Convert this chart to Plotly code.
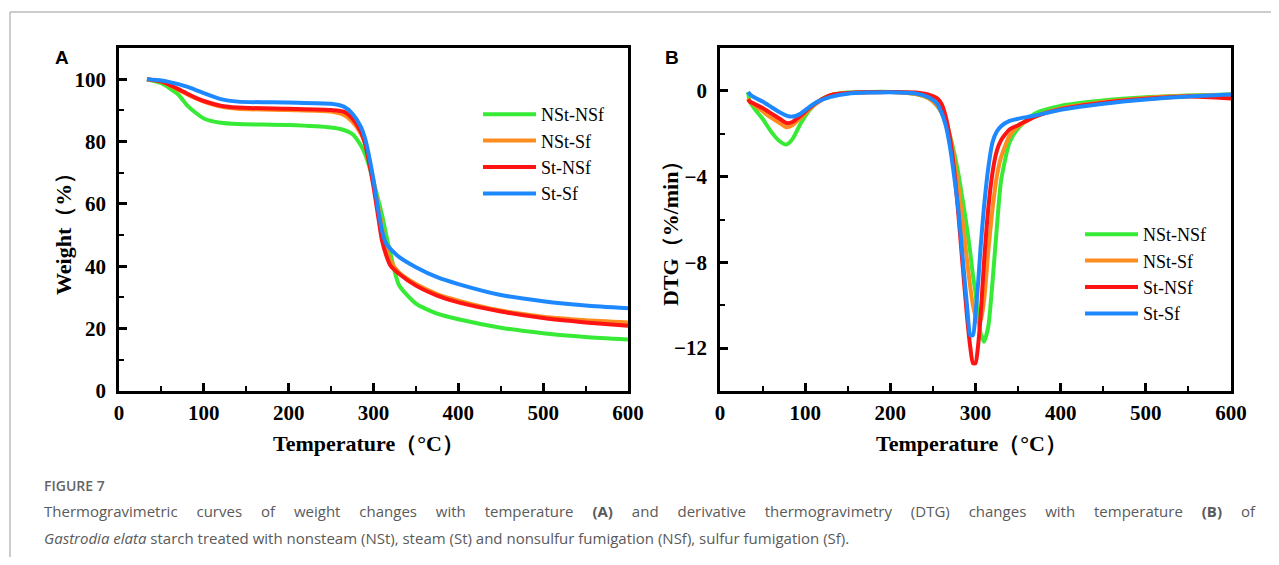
import plotly.graph_objects as go

# --- данные ---
series_names = ["NSt-NSf", "NSt-Sf", "St-NSf", "St-Sf"]
series_colors = ["#36ea36", "#ff8c1e", "#ff1414", "#1e88ff"]

# (A) TG: температура, °C и масса, %
tg_temp = [33, 50, 70, 80, 90, 100, 120, 140, 200, 250, 265, 275, 285, 290, 295,
           300, 305, 310, 315, 320, 330, 350, 375, 400, 450, 500, 550, 600]
tg_nst_nsf = [100, 98.7, 95, 91.7, 89.3, 87.4, 86, 85.6, 85.3, 84.5, 83.7, 82.4, 78.8, 76, 72,
              67, 62, 56.5, 50, 44, 34, 28, 24.8, 23, 20.3, 18.5, 17.3, 16.5]
tg_nst_sf = [100, 99.2, 96.6, 95.2, 93.9, 92.8, 91.2, 90.5, 90.1, 89.6, 88.5, 86.4, 82.6, 79.4, 74,
             67.6, 60, 52.6, 46, 41.8, 38, 34.3, 31.1, 29, 25.8, 23.8, 22.7, 22]
tg_st_nsf = [100, 99.3, 96.8, 95.4, 94.1, 93, 91.5, 90.9, 90.5, 90.1, 89.6, 87.4, 83.2, 79.4, 73,
             65.5, 56.9, 48.3, 43.5, 40.2, 37.6, 33.8, 30.6, 28.4, 25.5, 23.4, 22, 20.9]
tg_st_sf = [100, 99.6, 98.4, 97.6, 96.6, 95.5, 93.6, 92.8, 92.5, 92.1, 91.2, 89, 84.8, 81, 75,
            67.6, 59, 51.5, 47.2, 45.6, 43, 39.7, 36.5, 34.3, 30.8, 28.8, 27.4, 26.5]

# (B) DTG: температура, °C и скорость, %/min
dtg_temp = [33, 35, 40, 50, 60, 70, 78, 85, 95, 105, 115, 130, 150, 200, 230, 245, 255, 260,
            265, 270, 275, 280, 285, 290, 294, 297, 300, 303, 306, 310, 315, 320, 325, 330,
            340, 350, 370, 400, 450, 500, 550, 600]
dtg_nst_nsf = [-0.05, -0.5, -0.8, -1.3, -1.9, -2.35, -2.5, -2.25, -1.5, -0.9, -0.5, -0.2, -0.08,
               -0.05, -0.15, -0.35, -0.7, -1.0, -1.5, -2.1, -2.9, -3.9, -5.1, -6.4, -7.6, -8.6,
               -9.4, -10.5, -11.3, -11.7, -11.0, -8.9, -6.4, -4.2, -2.4, -1.75, -1.05, -0.7,
               -0.45, -0.3, -0.22, -0.17]
dtg_nst_sf = [-0.35, -0.5, -0.65, -0.95, -1.25, -1.5, -1.7, -1.6, -1.25, -0.85, -0.55, -0.2, -0.1,
              -0.05, -0.15, -0.35, -0.7, -1.0, -1.4, -2.1, -3.2, -4.5, -6.1, -7.9, -9.2, -10.0,
              -10.5, -10.8, -10.7, -9.8, -7.5, -5.5, -4.0, -3.1, -2.1, -1.65, -1.2, -0.82,
              -0.52, -0.33, -0.23, -0.18]
dtg_st_nsf = [-0.4, -0.5, -0.6, -0.8, -1.05, -1.3, -1.5, -1.45, -1.15, -0.8, -0.5, -0.2, -0.1,
              -0.05, -0.08, -0.18, -0.35, -0.6, -1.2, -2.2, -3.7, -5.8, -8.2, -10.5, -12.0, -12.7,
              -12.7, -11.9, -10.5, -8.0, -5.5, -3.8, -2.8, -2.3, -1.8, -1.6, -1.2, -0.85,
              -0.55, -0.37, -0.26, -0.35]
dtg_st_sf = [-0.05, -0.15, -0.3, -0.5, -0.75, -1.0, -1.15, -1.2, -1.05, -0.75, -0.5, -0.28, -0.13,
             -0.06, -0.12, -0.3, -0.6, -1.0, -1.6, -2.6, -4.0, -5.6, -7.8, -10.0, -11.4, -11.4,
             -10.4, -9.0, -7.3, -5.4, -3.6, -2.4, -1.9, -1.65, -1.4, -1.3, -1.15, -0.88,
             -0.6, -0.4, -0.26, -0.17]

tg_values = [tg_nst_nsf, tg_nst_sf, tg_st_nsf, tg_st_sf]
dtg_values = [dtg_nst_nsf, dtg_nst_sf, dtg_st_nsf, dtg_st_sf]

caption_words_1 = ["Thermogravimetric", "curves", "of", "weight", "changes", "with", "temperature",
                   "<b>(A)</b>", "and", "derivative", "thermogravimetry", "(DTG)", "changes", "with",
                   "temperature", "<b>(B)</b>", "of"]
caption_line_2 = ("<i>Gastrodia elata</i> starch treated with nonsteam (NSt), steam (St) and "
                  "nonsulfur fumigation (NSf), sulfur fumigation (Sf).")

# у body страницы поле 8px, поэтому фигура меньше окна на 2*8px
PAGE_OFF = 8
W, H = 1279 - 2 * PAGE_OFF, 565 - 2 * PAGE_OFF


def fx(px):
    return (px - PAGE_OFF) / W


def fy(py):
    return 1 - (py - PAGE_OFF) / H


SERIF = "Liberation Serif, Times New Roman, serif"
CAPTION_FONT = "Open Sans, Noto Sans, sans-serif"

fig = go.Figure()

for i, name in enumerate(series_names):
    fig.add_trace(go.Scatter(
        x=tg_temp, y=tg_values[i], name=name, mode="lines",
        line=dict(color=series_colors[i], width=4, shape="spline", smoothing=0.6),
        xaxis="x", yaxis="y", legend="legend", legendgroup=f"a{i}"
    ))

for i, name in enumerate(series_names):
    fig.add_trace(go.Scatter(
        x=dtg_temp, y=dtg_values[i], name=name, mode="lines",
        line=dict(color=series_colors[i], width=4, shape="spline", smoothing=0.6),
        xaxis="x2", yaxis="y2", legend="legend2", legendgroup=f"b{i}"
    ))

tick_font = dict(family=SERIF, size=21, color="black", weight="bold")
title_font = dict(family=SERIF, size=22, color="black", weight="bold")

axis_common = dict(
    showline=True, linecolor="black", linewidth=2.5, mirror=True,
    ticks="inside", ticklen=8, tickwidth=2.5, tickcolor="black",
    showgrid=False, zeroline=False, tickfont=tick_font, automargin=False,
)
minor_x = dict(dtick=50, ticks="inside", ticklen=5, tickwidth=2, tickcolor="black")

y_dom = [fy(391), fy(48)]

fig.update_layout(
    width=W, height=H,
    margin=dict(l=0, r=0, t=0, b=0),
    paper_bgcolor="white", plot_bgcolor="white",
    showlegend=True,
    xaxis=dict(axis_common, domain=[fx(119), fx(628)], range=[0, 600], dtick=100, minor=minor_x,
               ticklabelstandoff=1, anchor="y"),
    yaxis=dict(axis_common, domain=y_dom, range=[0, 110], tickvals=[0, 20, 40, 60, 80, 100],
               minor=dict(dtick=10, ticks="inside", ticklen=5, tickwidth=2, tickcolor="black"),
               ticklabelstandoff=6, anchor="x"),
    xaxis2=dict(axis_common, domain=[fx(720), fx(1231)], range=[0, 600], dtick=100, minor=minor_x,
                ticklabelstandoff=1, anchor="y2"),
    yaxis2=dict(axis_common, domain=y_dom, range=[-14, 2], tickvals=[-12, -8, -4, 0],
                minor=dict(tickvals=[-14, -10, -6, -2, 2], ticks="inside", ticklen=5, tickwidth=2,
                           tickcolor="black"),
                ticklabelstandoff=6, anchor="x2"),
    legend=dict(x=fx(478), y=fy(96), xanchor="left", yanchor="top",
                font=dict(family=SERIF, size=18, color="black"),
                bgcolor="rgba(0,0,0,0)", tracegroupgap=0, itemwidth=53),
    legend2=dict(x=fx(1080), y=fy(216), xanchor="left", yanchor="top",
                 font=dict(family=SERIF, size=18, color="black"),
                 bgcolor="rgba(0,0,0,0)", tracegroupgap=0, itemwidth=53),
)

# заголовки осей
for text, px_x, px_y, angle in (("Weight（%）", 63, 229, -90),
                                ("DTG（%/min）", 671, 228, -90),
                                ("Temperature（°C）", 368, 443, 0),
                                ("Temperature（°C）", 971, 443, 0)):
    fig.add_annotation(text=text, xref="paper", yref="paper", x=fx(px_x), y=fy(px_y),
                       xanchor="center", yanchor="middle", showarrow=False, textangle=angle,
                       font=title_font)

# подписи панелей
for label, px_x in (("A", 62), ("B", 672)):
    fig.add_annotation(text=label, xref="paper", yref="paper", x=fx(px_x), y=fy(57),
                       xanchor="center", yanchor="middle", showarrow=False,
                       font=dict(family="Liberation Sans, Arial, sans-serif", size=19,
                                 color="black", weight="bold"))

# подпись к рисунку (первая строка растянута по ширине, как в журнале)
fig.add_annotation(text="FIGURE 7", xref="paper", yref="paper", x=fx(42), y=fy(485),
                   xanchor="left", yanchor="middle", showarrow=False,
                   font=dict(family=CAPTION_FONT, size=14, color="#666666", weight=600))
fig.add_annotation(
    text="\u2003 ".join(caption_words_1),
    xref="paper", yref="paper", x=fx(42), y=fy(511), xanchor="left", yanchor="middle",
    showarrow=False, font=dict(family=CAPTION_FONT, size=15, color="#5a5a5a"))
fig.add_annotation(
    text=caption_line_2,
    xref="paper", yref="paper", x=fx(42), y=fy(538), xanchor="left", yanchor="middle",
    showarrow=False, font=dict(family=CAPTION_FONT, size=15, color="#5a5a5a"))

# рамка страницы (выходит за край фигуры до края окна)
fig.add_shape(type="line", xref="paper", yref="paper", x0=fx(10), x1=fx(10), y0=fy(565), y1=fy(12),
              line=dict(color="#bbbbbb", width=1.5))
fig.add_shape(type="line", xref="paper", yref="paper", x0=fx(10), x1=fx(1279), y0=fy(12), y1=fy(12),
              line=dict(color="#bbbbbb", width=1.5))

fig.write_html("out.html")
